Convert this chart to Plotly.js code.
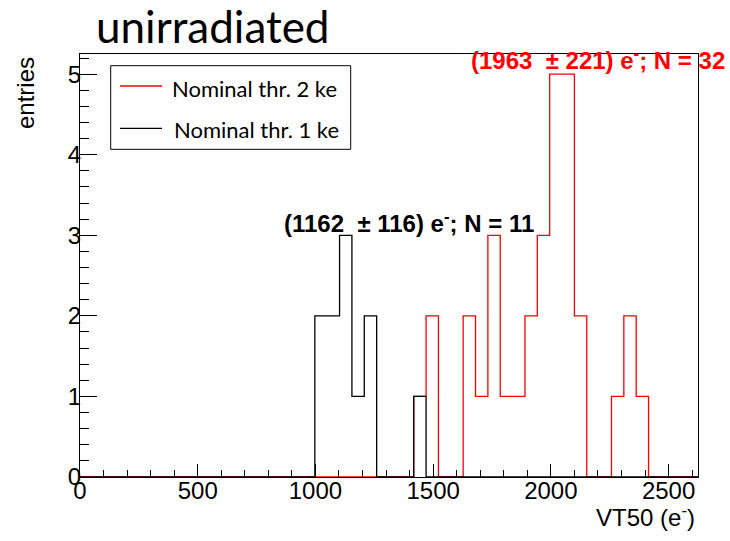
<!DOCTYPE html>
<html>
<head>
<meta charset="utf-8">
<script src="https://cdn.plot.ly/plotly-3.0.1.min.js"></script>
<style>html,body{margin:0;padding:0;background:#fff}#plot{width:730px;height:541px}</style>
</head>
<body>
<div id="plot"></div>
<script>
// Histogram binning (ROOT TH1: 50 bins over 0..2625)
const binWidth = 52.5;
const nBins = 50;
const xMax = 2625;

// Bin contents (index = bin number)
const redCounts = [
  0,0,0,0,0,0,0,0,0,0,
  0,0,0,0,0,0,0,0,0,0,
  0,0,0,0,0,0,0,1,2,0,
  0,2,1,3,1,1,2,3,5,5,
  2,0,0,1,2,1,0,0,0,0
];
const blackCounts = [
  0,0,0,0,0,0,0,0,0,0,
  0,0,0,0,0,0,0,0,0,2,
  2,3,1,2,0,0,0,1,0,0,
  0,0,0,0,0,0,0,0,0,0,
  0,0,0,0,0,0,0,0,0,0
];

const seriesNames = ["Nominal thr. 2 ke", "Nominal thr. 1 ke"];
const statTexts = ["(1963 &nbsp;\u00b1 221) e<sup>-</sup>; N = 32", "(1162 &nbsp;\u00b1 116) e<sup>-</sup>; N = 11"];
const titleText = "unirradiated";
const xTitle = "VT50 (e<sup>-</sup>)";
const yTitle = "entries";

function stepXY(counts) {
  const xs = [], ys = [];
  for (let i = 0; i <= counts.length; i++) {
    xs.push(i * binWidth);
    ys.push(i < counts.length ? counts[i] : counts[counts.length - 1]);
  }
  return {xs, ys};
}

const r = stepXY(redCounts);
const b = stepXY(blackCounts);

const traces = [
  {x: r.xs, y: r.ys, type: 'scatter', mode: 'lines', line: {shape: 'hv', color: '#ff0000', width: 1.3}, name: seriesNames[0], showlegend: false, hoverinfo: 'skip'},
  {x: b.xs, y: b.ys, type: 'scatter', mode: 'lines', line: {shape: 'hv', color: '#000000', width: 1.3}, name: seriesNames[1], showlegend: false, hoverinfo: 'skip'}
];

const tickFont = {family: 'Liberation Sans, Arial, sans-serif', size: 24, color: '#000'};
const calFont = {family: 'Lato, sans-serif', size: 22, color: '#000'};

// helper pixel -> paper
const L = 80, T = 54, W = 618, H = 423;
const px = v => (v - L) / W;
const py = v => (T + H - v) / H;

const layout = {
  width: 730, height: 541,
  margin: {l: L, r: 730 - L - W, t: T, b: 541 - T - H},
  paper_bgcolor: '#fff', plot_bgcolor: '#fff',
  showlegend: false,
  title: {text: titleText, font: {family: 'Lato, sans-serif', size: 44, color: '#000'},
          x: 96 / 730, xanchor: 'left', xref: 'container', y: 1 - 12 / 541, yanchor: 'top', yref: 'container', pad: {t: 0, b: 0, l: 0, r: 0}},
  xaxis: {
    range: [0, xMax], tick0: 0, dtick: 500, ticks: 'inside', ticklen: 13, tickwidth: 1, tickcolor: '#000',
    minor: {dtick: 100, tick0: 0, ticks: 'inside', ticklen: 7, tickwidth: 1, tickcolor: '#000', showgrid: false},
    showline: true, mirror: true, linecolor: '#000', linewidth: 1, showgrid: false, zeroline: false,
    tickfont: tickFont, ticklabelstandoff: -8, fixedrange: true
  },
  yaxis: {
    range: [0, 5.25], tick0: 0, dtick: 1, ticks: 'inside', ticklen: 17, tickwidth: 1, tickcolor: '#000',
    minor: {dtick: 0.2, tick0: 0, ticks: 'inside', ticklen: 9, tickwidth: 1, tickcolor: '#000', showgrid: false},
    showline: true, mirror: true, linecolor: '#000', linewidth: 1, showgrid: false, zeroline: false,
    tickfont: tickFont, ticklabelstandoff: -7, fixedrange: true
  },
  shapes: [
    {type: 'rect', xref: 'paper', yref: 'paper', x0: px(110.7), x1: px(350.7), y0: py(149.3), y1: py(65.7), line: {color: '#000', width: 1}, fillcolor: '#fff', layer: 'above'},
    {type: 'line', xref: 'paper', yref: 'paper', x0: px(120), x1: px(162), y0: py(86), y1: py(86), line: {color: '#ff0000', width: 1.3}},
    {type: 'line', xref: 'paper', yref: 'paper', x0: px(120), x1: px(162), y0: py(128.3), y1: py(128.3), line: {color: '#000', width: 1.3}}
  ],
  annotations: [
    {xref: 'paper', yref: 'paper', x: px(170), y: py(88), xanchor: 'left', yanchor: 'middle', text: seriesNames[0], showarrow: false, font: calFont},
    {xref: 'paper', yref: 'paper', x: px(172), y: py(129), xanchor: 'left', yanchor: 'middle', text: seriesNames[1], showarrow: false, font: calFont},
    {xref: 'paper', yref: 'paper', x: px(597.5), y: py(59), xanchor: 'center', yanchor: 'middle', text: statTexts[0], showarrow: false,
     font: {family: 'Liberation Sans, Arial, sans-serif', size: 24, color: '#ff0000', weight: 'bold'}},
    {xref: 'paper', yref: 'paper', x: px(408.5), y: py(222), xanchor: 'center', yanchor: 'middle', text: statTexts[1], showarrow: false,
     font: {family: 'Liberation Sans, Arial, sans-serif', size: 24, color: '#000', weight: 'bold'}},
    {xref: 'paper', yref: 'paper', x: px(697), y: py(516), xanchor: 'right', yanchor: 'middle', text: xTitle, showarrow: false, font: tickFont},
    {xref: 'paper', yref: 'paper', x: px(25), y: py(55), xanchor: 'center', yanchor: 'top', text: yTitle, textangle: -90, showarrow: false, font: tickFont}
  ]
};

Plotly.newPlot('plot', traces, layout, {staticPlot: true, displayModeBar: false});
</script>
</body>
</html>
